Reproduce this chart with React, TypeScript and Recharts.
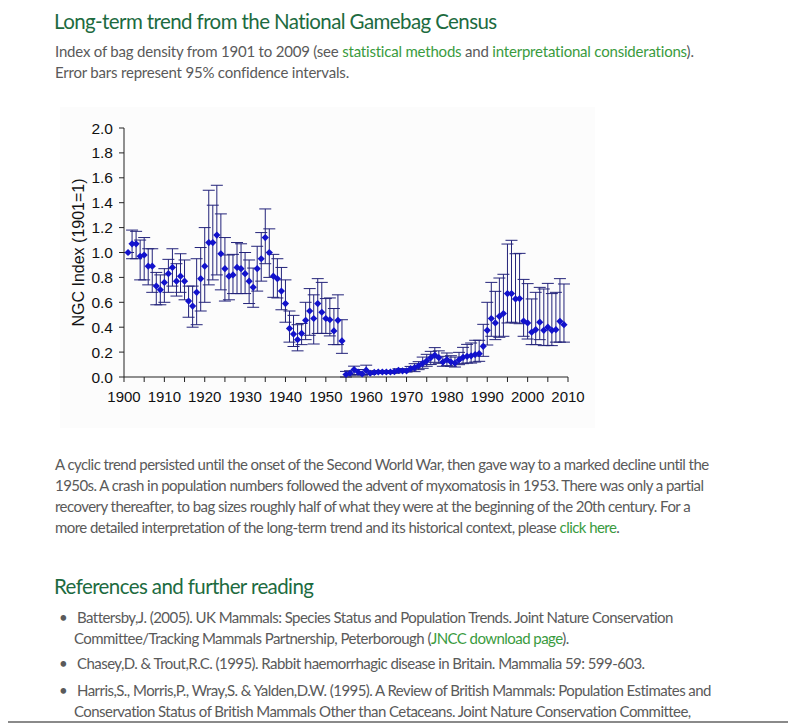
import React from "react";
import {
  ComposedChart,
  Scatter,
  ErrorBar,
  XAxis,
  YAxis,
  Label,
} from "recharts";

const YEARS = [
  1901, 1902, 1903, 1904, 1905, 1906, 1907, 1908, 1909, 1910,
  1911, 1912, 1913, 1914, 1915, 1916, 1917, 1918, 1919, 1920,
  1921, 1922, 1923, 1924, 1925, 1926, 1927, 1928, 1929, 1930,
  1931, 1932, 1933, 1934, 1935, 1936, 1937, 1938, 1939, 1940,
  1941, 1942, 1943, 1944, 1945, 1946, 1947, 1948, 1949, 1950,
  1951, 1952, 1953, 1954, 1955, 1956, 1957, 1958, 1959, 1960,
  1961, 1962, 1963, 1964, 1965, 1966, 1967, 1968, 1969, 1970,
  1971, 1972, 1973, 1974, 1975, 1976, 1977, 1978, 1979, 1980,
  1981, 1982, 1983, 1984, 1985, 1986, 1987, 1988, 1989, 1990,
  1991, 1992, 1993, 1994, 1995, 1996, 1997, 1998, 1999, 2000,
  2001, 2002, 2003, 2004, 2005, 2006, 2007, 2008, 2009,
];

const INDEX = [
  1.0, 1.07, 1.07, 0.97, 0.98, 0.89, 0.89, 0.73, 0.7, 0.76,
  0.83, 0.88, 0.77, 0.81, 0.77, 0.61, 0.57, 0.68, 0.79, 0.89,
  1.08, 1.08, 1.14, 0.99, 0.87, 0.81, 0.82, 0.88, 0.87, 0.83,
  0.77, 0.72, 0.87, 0.95, 1.12, 1.0, 0.81, 0.79, 0.69, 0.59,
  0.39, 0.345, 0.3, 0.35, 0.455, 0.53, 0.47, 0.59, 0.52, 0.47,
  0.46, 0.37, 0.455, 0.29, 0.02, 0.03, 0.06, 0.04, 0.025, 0.055,
  0.03, 0.037, 0.04, 0.04, 0.04, 0.04, 0.043, 0.054, 0.05, 0.05,
  0.067, 0.075, 0.09, 0.11, 0.13, 0.155, 0.175, 0.155, 0.12, 0.14,
  0.12, 0.112, 0.137, 0.158, 0.166, 0.17, 0.18, 0.187, 0.246, 0.375,
  0.47, 0.434, 0.487, 0.51, 0.67, 0.67, 0.627, 0.63, 0.45, 0.434,
  0.36, 0.38, 0.44, 0.375, 0.4, 0.375, 0.38, 0.447, 0.42,
];

const UPPER = [
  1.0, 1.18, 1.17, 1.1, 1.12, 1.03, 1.03, 0.84, 0.82, 0.87,
  0.945, 1.03, 0.91, 0.99, 0.94, 0.73, 0.73, 0.95, 1.04, 1.2,
  1.5, 1.38, 1.54, 1.31, 1.12, 0.98, 0.985, 1.08, 1.07, 1.0,
  0.94, 0.875, 1.05, 1.16, 1.35, 1.19, 0.985, 0.95, 0.88, 0.78,
  0.53, 0.495, 0.42, 0.43, 0.6, 0.71, 0.66, 0.79, 0.76, 0.63,
  0.635, 0.55, 0.66, 0.46, 0.045, 0.05, 0.087, 0.06, 0.04, 0.095,
  0.045, 0.05, 0.05, 0.05, 0.05, 0.05, 0.05, 0.066, 0.065, 0.065,
  0.085, 0.107, 0.123, 0.16, 0.182, 0.206, 0.236, 0.21, 0.166, 0.193,
  0.171, 0.16, 0.198, 0.238, 0.262, 0.273, 0.295, 0.295, 0.423, 0.6,
  0.76, 0.688, 0.795, 0.825, 1.068, 1.098, 0.99, 0.993, 0.784, 0.75,
  0.627, 0.68, 0.72, 0.707, 0.752, 0.67, 0.68, 0.79, 0.747,
];

const LOWER = [
  1.0, 0.95, 0.95, 0.78, 0.78, 0.74, 0.68, 0.58, 0.58, 0.6,
  0.68, 0.73, 0.65, 0.68, 0.62, 0.48, 0.4, 0.42, 0.53, 0.6,
  0.74, 0.78, 0.82, 0.7, 0.61, 0.62, 0.67, 0.67, 0.67, 0.67,
  0.59, 0.56, 0.69, 0.77, 0.91, 0.8, 0.64, 0.635, 0.54, 0.44,
  0.28, 0.245, 0.21, 0.26, 0.3, 0.335, 0.265, 0.35, 0.35, 0.35,
  0.33, 0.26, 0.26, 0.19, 0.0, 0.01, 0.02, 0.02, 0.01, 0.02,
  0.02, 0.03, 0.03, 0.03, 0.03, 0.03, 0.03, 0.04, 0.04, 0.04,
  0.05, 0.043, 0.059, 0.07, 0.086, 0.1, 0.118, 0.11, 0.086, 0.091,
  0.086, 0.08, 0.099, 0.107, 0.112, 0.112, 0.12, 0.126, 0.166, 0.257,
  0.327, 0.3, 0.319, 0.327, 0.434, 0.44, 0.434, 0.428, 0.327, 0.305,
  0.26, 0.26, 0.3, 0.252, 0.254, 0.252, 0.28, 0.28, 0.28,
];

const X_TICKS = [
  1900, 1905, 1910, 1915, 1920, 1925, 1930, 1935, 1940, 1945, 1950, 1955,
  1960, 1965, 1970, 1975, 1980, 1985, 1990, 1995, 2000, 2005, 2010,
];
const Y_TICKS = [0, 0.2, 0.4, 0.6, 0.8, 1.0, 1.2, 1.4, 1.6, 1.8, 2.0];

const data = YEARS.map((year, i) => ({
  year,
  index: INDEX[i],
  ci: [INDEX[i] - LOWER[i], UPPER[i] - INDEX[i]],
}));

const GREEN = "#1d6b3f";
const LINK = "#3a9b3e";
const TEXT = "#5a5a5a";
const AXIS_FONT = "'Liberation Sans', Arial, sans-serif";
const BODY_FONT = "Lato, 'Open Sans', sans-serif";

const Diamond = (props: any) => {
  const { cx, cy } = props;
  const r = 3.6;
  return (
    <path
      d={`M${cx},${cy - r}L${cx + r},${cy}L${cx},${cy + r}L${cx - r},${cy}Z`}
      fill="#1212cc"
    />
  );
};

const line = (top: number, children: React.ReactNode, style: React.CSSProperties = {}) => (
  <div
    style={{
      position: "absolute",
      left: 47,
      top,
      whiteSpace: "nowrap",
      fontFamily: BODY_FONT,
      fontSize: 15,
      color: TEXT,
      letterSpacing: -0.55,
      ...style,
    }}
  >
    {children}
  </div>
);

const a = (t: string) => <span style={{ color: LINK }}>{t}</span>;

const bullet = (top: number, first: React.ReactNode, second?: React.ReactNode) => (
  <>
    {line(top, <span>•&nbsp;&nbsp;&nbsp;{first}</span>, { left: 51 })}
    {second ? line(top + 21, second, { left: 66 }) : null}
  </>
);

const heading = (top: number, text: string) => (
  <div
    style={{
      position: "absolute",
      left: 46,
      top,
      fontFamily: BODY_FONT,
      fontSize: 20.5,
      color: GREEN,
      letterSpacing: -0.6,
      whiteSpace: "nowrap",
    }}
  >
    {text}
  </div>
);

export default function App() {
  return (
    <div style={{ position: "relative", width: 780, height: 717, background: "#fff" }}>
      {heading(1, "Long-term trend from the National Gamebag Census")}
      {line(34, <>Index of bag density from 1901 to 2009 (see {a("statistical methods")} and {a("interpretational considerations")}).</>, { letterSpacing: -0.2 })}
      {line(55, "Error bars represent 95% confidence intervals.", { letterSpacing: -0.2 })}

      <div style={{ position: "absolute", left: 52, top: 99, width: 535, height: 321, background: "#fcfcfc" }}>
        <ComposedChart
          width={535}
          height={321}
          data={data}
          margin={{ top: 21, right: 27, bottom: 14, left: 0 }}
        >
          <XAxis
            type="number"
            dataKey="year"
            domain={[1900, 2010]}
            ticks={X_TICKS}
            interval={0}
            tickFormatter={(v: number) => (v % 10 === 0 ? String(v) : "")}
            stroke="#222"
            tickSize={5}
            tickMargin={9}
            height={37}
            tick={{ fill: "#111", fontSize: 15, fontFamily: AXIS_FONT }}
          />
          <YAxis
            type="number"
            domain={[0, 2]}
            ticks={Y_TICKS}
            interval={0}
            tickFormatter={(v: number) => v.toFixed(1)}
            stroke="#222"
            tickSize={5}
            tickMargin={6}
            width={64}
            tick={{ fill: "#111", fontSize: 15.5, fontFamily: AXIS_FONT }}
          >
            <Label
              value="NGC Index (1901=1)"
              angle={-90}
              position="insideLeft"
              offset={18}
              style={{ textAnchor: "middle", fill: "#111", fontSize: 16, fontFamily: AXIS_FONT }}
            />
          </YAxis>
          <Scatter dataKey="index" shape={Diamond} isAnimationActive={false}>
            <ErrorBar dataKey="ci" direction="y" width={6} stroke="#23237a" strokeWidth={1} isAnimationActive={false} />
          </Scatter>
        </ComposedChart>
      </div>

      {line(447, "A cyclic trend persisted until the onset of the Second World War, then gave way to a marked decline until the")}
      {line(468, "1950s. A crash in population numbers followed the advent of myxomatosis in 1953. There was only a partial")}
      {line(489, "recovery thereafter, to bag sizes roughly half of what they were at the beginning of the 20th century. For a")}
      {line(510, <>more detailed interpretation of the long-term trend and its historical context, please {a("click here")}.</>)}

      {heading(566, "References and further reading")}
      {bullet(600, "Battersby,J. (2005). UK Mammals: Species Status and Population Trends. Joint Nature Conservation",
        <>Committee/Tracking Mammals Partnership, Peterborough ({a("JNCC download page")}).</>)}
      {bullet(646, "Chasey,D. & Trout,R.C. (1995). Rabbit haemorrhagic disease in Britain. Mammalia 59: 599-603.")}
      {bullet(673, "Harris,S., Morris,P., Wray,S. & Yalden,D.W. (1995). A Review of British Mammals: Population Estimates and",
        "Conservation Status of British Mammals Other than Cetaceans. Joint Nature Conservation Committee,")}
      <div style={{ position: "absolute", left: -8, top: 713, width: 796, height: 2, background: "#8a8a8a" }} />
    </div>
  );
}
